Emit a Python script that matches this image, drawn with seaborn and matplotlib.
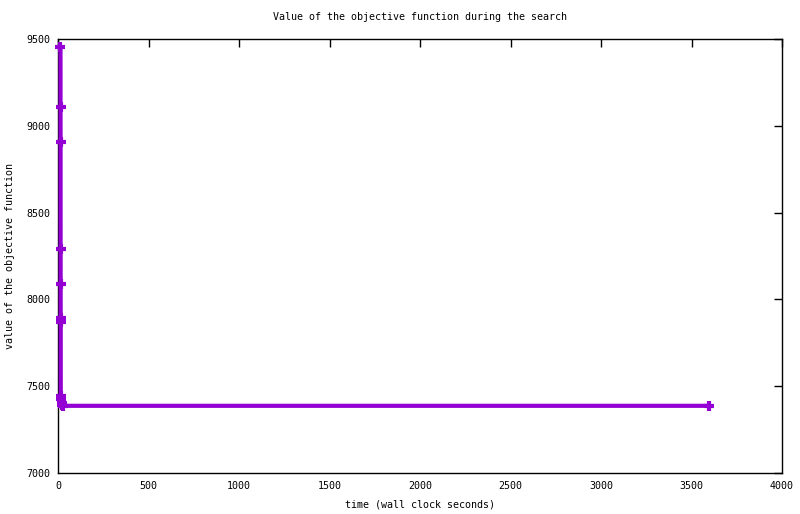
import matplotlib
matplotlib.use("Agg")
import matplotlib.pyplot as plt
import seaborn as sns
import pandas as pd

# data
time_s = [12.0, 12.2, 12.4, 12.6, 12.8, 13.0, 13.2, 13.4, 15, 18, 21, 24, 3595]
objective = [9457, 9109, 8909, 8292, 8090, 7894, 7867, 7444, 7425, 7405, 7393, 7386, 7386]
x_ticks = [0, 500, 1000, 1500, 2000, 2500, 3000, 3500, 4000]
y_ticks = [7000, 7500, 8000, 8500, 9000, 9500]

sns.set_theme(style="white")
plt.rcParams['font.family'] = ['DejaVu Sans Mono', 'DejaVu Sans']
plt.rcParams['text.color'] = 'black'
plt.rcParams['axes.labelcolor'] = 'black'

df = pd.DataFrame({"time": time_s, "value": objective})

fig = plt.figure(figsize=(8.0, 5.14), dpi=100)
ax = fig.add_axes([0.0729, 0.0803, 0.9046, 0.8432])

sns.lineplot(data=df, x="time", y="value", ax=ax, estimator=None, sort=False,
             color="#9400D3", linewidth=3.0, marker="+", markersize=7.5,
             markeredgewidth=3.0, markeredgecolor="#9400D3", zorder=5, clip_on=False)

ax.set_xlim(0, 4000)
ax.set_ylim(7000, 9500)
ax.set_xticks(x_ticks)
ax.set_yticks(y_ticks)
ax.tick_params(direction="in", length=6, width=1.0, colors="black",
               labelsize=7.2, top=True, right=True, pad=6)
for s in ax.spines.values():
    s.set_color("black")
    s.set_linewidth(1.0)

ax.set_title("Value of the objective function during the search", fontsize=7.2, pad=14, color="black")
ax.set_xlabel("time (wall clock seconds)", fontsize=7.2, labelpad=6)
ax.set_ylabel("value of the objective function", fontsize=7.2, labelpad=8)

fig.savefig("out.png", dpi=100)
